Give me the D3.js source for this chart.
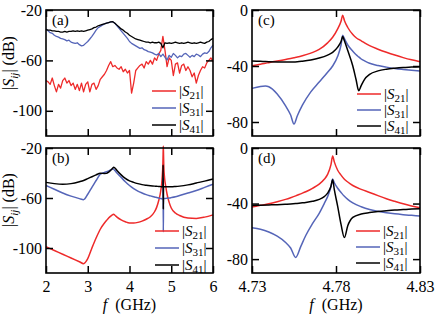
<!DOCTYPE html>
<html>
<head>
<meta charset="utf-8">
<script src="https://cdn.jsdelivr.net/npm/d3@7"></script>
<style>
body { margin: 0; background: #fff; }
svg { font-family: "Liberation Serif", "Times New Roman", serif; }
</style>
</head>
<body>
<svg id="chart" width="436" height="319"></svg>
<script>
// ---- data (dB) ----
var freqA = [2.00,2.05,2.10,2.15,2.20,2.25,2.30,2.35,2.40,2.45,2.50,2.55,2.60,2.65,2.70,2.75,2.80,2.85,2.90,2.95,
             3.00,3.05,3.10,3.15,3.20,3.25,3.30,3.35,3.40,3.45,3.50,3.55,3.60,3.65,3.70,3.75,3.80,3.85,3.90,3.95,
             4.00,4.05,4.10,4.15,4.20,4.25,4.30,4.35,4.40,4.45,4.50,4.55,4.60,4.65,4.70,4.75,4.80,4.85,4.90,4.95,
             5.00,5.05,5.10,5.15,5.20,5.25,5.30,5.35,5.40,5.45,5.50,5.55,5.60,5.65,5.70,5.75,5.80,5.85,5.90,5.95,6.00];
var s21A = [-76,-77,-79,-74,-80,-85,-79,-82,-76,-74, -78,-76,-80,-78,-83,-79,-84,-78,-85,-79,
            -77,-85,-79,-78,-83,-80,-75,-73,-71,-68, -64,-61,-65,-64,-66,-67,-65,-69,-67,-70,
            -68,-86,-78,-68,-66,-64,-63,-66,-61,-63, -60,-63,-58,-60,-55,-52,-41,-52,-65,-58,
            -60,-72,-63,-62,-70,-64,-63,-68,-65,-68, -73,-70,-78,-72,-68,-65,-66,-62,-60,-58, -61];
var s31A = [-35,-36.5,-38,-38.5,-40,-41,-41.5,-42.5,-43,-43.5, -44.5,-44,-45.5,-46,-46.5,-46,-47.5,-48.5,-48,-46.5,
            -45,-43,-41,-38.5,-36,-34,-33,-32,-31,-30.5, -30,-29.5,-29.3,-30.5,-32.5,-34.5,-36.5,-38.5,-40.5,-42.5,
            -45,-46.5,-47.5,-48.5,-49.5,-50.5,-50,-51.5,-52,-53, -53.5,-54,-55,-55.7,-54.5,-57,-55,-57.5,-59.7,-56,
            -57.5,-54.5,-56,-58,-56.5,-57,-55,-54.5,-56,-57.5, -56,-57,-55,-55.7,-57,-55,-54,-54.5,-53,-50, -48];
var s41A = [-35.5,-36,-36,-36.5,-36.5,-37,-37,-37.5,-37.5,-37, -37.5,-37,-37,-36.5,-37,-36.5,-37,-36.5,-37,-36.5,
            -36,-35.5,-35,-34,-33.5,-32.5,-32,-31.5,-31,-30.5, -30,-29.5,-29.3,-30.5,-32,-33.5,-35,-36,-37.5,-38.5,
            -40,-41,-42,-43,-43.5,-44,-44.5,-45,-45.5,-45.5, -46,-45.5,-46,-46,-45.5,-46.5,-50,-46,-46.5,-46,
            -46.5,-46,-45.5,-46,-46.5,-46,-46.5,-46,-45.5,-46, -46.5,-46,-46.5,-46,-45.5,-46,-46.5,-45.5,-45,-43.5, -42.5];

var freqB = [2.0,2.2,2.4,2.6,2.8, 2.9,3.0,3.1,3.2,3.3, 3.4,3.45,3.5,3.55,3.6, 3.62,3.65,3.7,3.8,3.9,
             4.0,4.1,4.2,4.3,4.4, 4.5,4.6,4.65,4.7,4.75, 4.78,4.8,4.805,4.81,4.815, 4.82,4.84,4.87,4.9,4.95,
             5.0,5.1,5.2,5.4,5.6, 5.8,6.0];
var s21B = [-99,-102,-105,-108,-111, -112.5,-108.5,-100,-92,-85, -80,-78,-76,-74.5,-73.3, -73,-73.8,-75.3,-77.5,-79,
            -80,-80,-79.5,-78.5,-77, -75,-71,-67.5,-62,-54, -45,-32,-25,-18.5,-25, -33,-44,-51,-57,-63.5,
            -68,-72,-74,-76,-76.3, -75.3,-73.5];
var s31B = [-50,-53,-56,-58.5,-60.5, -61.3,-57,-51.5,-46,-41, -39.5,-39,-38.3,-37.5,-36.7, -37,-38,-40,-43.5,-47,
            -50,-52.5,-54.5,-56,-57.3, -58.3,-59.2,-59.6,-60,-60.4, -60.7,-61,-44,-87,-60.5, -60.5,-60.4,-60.3,-60.2,-60,
            -59.7,-59,-58,-56,-54, -51.5,-49];
var s41B = [-47.5,-48.5,-49,-48.5,-47, -46,-44.5,-43,-41.5,-40.2, -40.4,-40.3,-39.3,-37.8,-36, -35.3,-36,-38,-41.5,-44.3,
            -46.3,-47.5,-48.5,-49.3,-49.8, -50.2,-50.5,-50.6,-50.8,-50.9, -51,-51,-33.5,-69,-51, -51,-51,-51,-51,-51,
            -51,-50.8,-50.5,-49.5,-48, -46.5,-44.8];

var freqC = [4.730,4.735,4.738,4.740,4.745,4.750,4.753,4.755,4.757,4.760,4.765,4.770,4.775,4.778,4.781,4.783,
             4.784,4.785,4.787,4.790,4.792,4.7935,4.795,4.797,4.800,4.805,4.810,4.815,4.820,4.825,4.830];
var s21C = [-39.8,-38.7,-38,-37.6,-36.5,-35.3,-34.6,-34.1,-33.6,-32.7,-30.8,-28.2,-23.5,-19.5,-13.5,-8,
            -3.8,-7.5,-12.5,-17.5,-19.8,-21,-22,-23.5,-25.5,-28,-30.2,-32.2,-34,-35.6,-37];
var s31C = [-56,-54.6,-54.3,-54.8,-60,-68.5,-75,-81.4,-75.5,-68,-58.5,-51.5,-44.5,-40,-33,-25,
            -18,-20.5,-25,-29.5,-32,-33.5,-35,-36.3,-38,-39.7,-40.8,-41.8,-42.5,-43.1,-43.6];
var s41C = [-36.4,-36.6,-36.8,-36.9,-37.1,-37.2,-37.2,-37.1,-37,-36.6,-35.7,-34.3,-32.2,-30.3,-26.5,-22.5,
            -19,-22,-29,-40,-50,-57.6,-54,-49.5,-46,-43.5,-42.3,-41.6,-41.1,-40.8,-40.5];

var freqD = [4.730,4.735,4.740,4.745,4.750,4.753,4.756,4.759,4.762,4.766,4.770,4.773,4.775,4.777,4.778,
             4.779,4.781,4.783,4.785,4.787,4.790,4.795,4.800,4.805,4.810,4.815,4.820,4.825,4.830];
var s21D = [-42.4,-41.3,-40.2,-38.7,-37,-35.8,-34.5,-33,-31.5,-29,-26,-22.5,-19,-12,-5.7,
            -10,-16,-19.5,-22.5,-24.5,-27,-29.8,-32,-34.3,-36.5,-38.4,-40.2,-41.7,-43];
var s31D = [-57.4,-58.5,-60.5,-63.5,-68,-72,-78.8,-71,-63,-54.5,-47,-40,-35,-28,-22.4,
            -25,-29,-32,-34.8,-37,-39.5,-42.3,-44.3,-45.6,-46.6,-47.4,-48,-48.5,-49];
var s41D = [-41.4,-41.2,-41,-40.8,-40.5,-40.3,-40,-39.6,-39.2,-38.4,-37,-35,-32.5,-27.5,-22.9,
            -30,-42,-55,-64.5,-56,-50,-47.5,-46.5,-45.7,-45.1,-44.6,-44.3,-44,-43.8];

var legendNames = ["21", "31", "41"];
var colors = ["#ee2a2a", "#5565b8", "#000000"];

var svg = d3.select("#chart");

function drawPanel(p) {
    var x = d3.scaleLinear().domain(p.xDomain).range([p.left, p.right]);
    var y = d3.scaleLinear().domain(p.yDomain).range([p.bottom, p.top]);

    var line = d3.line()
        .x(function(d) { return x(d[0]); })
        .y(function(d) { return y(d[1]); })
        .curve(p.curve);

    p.series.forEach(function(s, i) {
        var pts = p.freq.map(function(f, k) { return [f, s[k]]; });
        svg.append("path")
            .attr("d", line(pts))
            .attr("fill", "none")
            .attr("stroke", colors[i])
            .attr("stroke-width", p.width)
            .attr("stroke-linejoin", "round");
    });

    // axes with inward ticks on all four sides
    var gl = svg.append("g").attr("transform", "translate(" + p.left + ",0)")
        .call(d3.axisLeft(y).tickValues(p.yTicks).tickSize(-7).tickPadding(4)
            .tickFormat(function(d) { return String(d); }));
    var gr = svg.append("g").attr("transform", "translate(" + p.right + ",0)")
        .call(d3.axisRight(y).tickValues(p.yTicks).tickSize(-7).tickFormat(""));
    var gt = svg.append("g").attr("transform", "translate(0," + p.top + ")")
        .call(d3.axisTop(x).tickValues(p.xTicks).tickSize(-7).tickFormat(""));
    var gb = svg.append("g").attr("transform", "translate(0," + p.bottom + ")")
        .call(d3.axisBottom(x).tickValues(p.xTicks).tickSize(-7).tickPadding(8)
            .tickFormat(p.xLabels ? p.xFormat : ""));

    [gl, gr, gt, gb].forEach(function(g) {
        g.select(".domain").remove();
        g.attr("font-size", 16).attr("font-family", null);
        g.selectAll(".tick line").attr("stroke", "#000").attr("stroke-width", 1.5);
        g.selectAll(".tick text").attr("fill", "#000");
    });

    svg.append("rect")
        .attr("x", p.left).attr("y", p.top)
        .attr("width", p.right - p.left).attr("height", p.bottom - p.top)
        .attr("fill", "none").attr("stroke", "#000").attr("stroke-width", 1.6);

    svg.append("text")
        .attr("x", p.left + 6).attr("y", p.top + 15)
        .attr("font-size", 15)
        .text(p.letter);

    // legend
    legendNames.forEach(function(n, i) {
        var ly = p.legendY[i];
        svg.append("line")
            .attr("x1", p.legendX).attr("x2", p.legendX + 24)
            .attr("y1", ly).attr("y2", ly)
            .attr("stroke", colors[i]).attr("stroke-width", 1.5);
        var t = svg.append("text")
            .attr("x", p.legendX + 27).attr("y", ly + 5)
            .attr("font-size", 15).attr("fill", "#000");
        t.append("tspan").text("|");
        t.append("tspan").attr("font-style", "italic").text("S");
        t.append("tspan").attr("font-size", 11).attr("dy", 3).text(n);
        t.append("tspan").attr("dy", -3).text("|");
    });
}

var fmtInt = function(d) { return String(d); };
var fmt2 = function(d) { return d.toFixed(2); };

drawPanel({ left: 46, right: 213, top: 10, bottom: 136, xDomain: [2, 6], yDomain: [-120, -20],
    xTicks: [2, 3, 4, 5, 6], yTicks: [-20, -60, -100], xLabels: false, xFormat: fmtInt,
    freq: freqA, series: [s21A, s31A, s41A], curve: d3.curveLinear, width: 1.3,
    letter: "(a)", legendX: 152, legendY: [91, 108, 125] });

drawPanel({ left: 46, right: 213, top: 148, bottom: 273, xDomain: [2, 6], yDomain: [-120, -20],
    xTicks: [2, 3, 4, 5, 6], yTicks: [-20, -60, -100], xLabels: true, xFormat: fmtInt,
    freq: freqB, series: [s21B, s31B, s41B], curve: d3.curveMonotoneX, width: 1.5,
    letter: "(b)", legendX: 155, legendY: [231, 248, 265] });

drawPanel({ left: 252, right: 420, top: 10, bottom: 136, xDomain: [4.73, 4.83], yDomain: [-90, 0],
    xTicks: [4.73, 4.78, 4.83], yTicks: [0, -40, -80], xLabels: false, xFormat: fmt2,
    freq: freqC, series: [s21C, s31C, s41C], curve: d3.curveMonotoneX, width: 1.5,
    letter: "(c)", legendX: 357, legendY: [94, 110, 126] });

drawPanel({ left: 252, right: 420, top: 148, bottom: 273, xDomain: [4.73, 4.83], yDomain: [-90, 0],
    xTicks: [4.73, 4.78, 4.83], yTicks: [0, -40, -80], xLabels: true, xFormat: fmt2,
    freq: freqD, series: [s21D, s31D, s41D], curve: d3.curveMonotoneX, width: 1.5,
    letter: "(d)", legendX: 356, legendY: [231, 247, 263] });

// axis titles
[63, 200].forEach(function(cy) {
    var t = svg.append("text")
        .attr("transform", "translate(14," + cy + ") rotate(-90)")
        .attr("text-anchor", "middle")
        .attr("font-size", 16);
    t.append("tspan").text("|");
    t.append("tspan").attr("font-style", "italic").text("S");
    t.append("tspan").attr("font-style", "italic").attr("font-size", 11).attr("dy", 4).text("ij");
    t.append("tspan").attr("dy", -4).text("| (dB)");
});

[129.5, 336].forEach(function(cx) {
    var t = svg.append("text")
        .attr("x", cx).attr("y", 310)
        .attr("text-anchor", "middle")
        .attr("font-size", 16);
    t.append("tspan").attr("font-style", "italic").text("f");
    t.append("tspan").text("\u00a0\u00a0(GHz)");
});
</script>
</body>
</html>
